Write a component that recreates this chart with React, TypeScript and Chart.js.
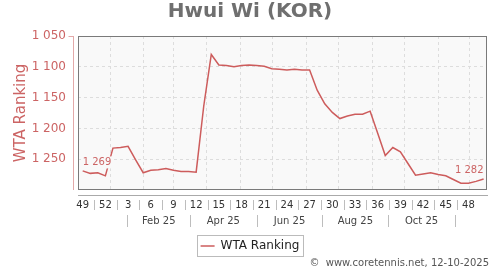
import React, { useEffect, useRef } from 'react';
import { Chart, registerables } from 'chart.js';

Chart.register(...registerables);

// ISO week numbers of each weekly ranking (Dec 2024 -> Dec 2025)
const weekLabels = [49, 50, 51, 52, 1, 2, 3, 4, 5, 6, 7, 8, 9, 10, 11, 12, 13, 14, 15, 16, 17, 18, 19, 20, 21, 22, 23, 24, 25, 26, 27, 28, 29, 30, 31, 32, 33, 34, 35, 36, 37, 38, 39, 40, 41, 42, 43, 44, 45, 46, 47, 48, 49, 50];

// WTA ranking per week
const rankings = [1269, 1273, 1272, 1277, 1232, 1231, 1229, 1251, 1272, 1268, 1267, 1265, 1268, 1270, 1270, 1271, 1164, 1080, 1097, 1098, 1100, 1098, 1097, 1098, 1099, 1103, 1104, 1105, 1104, 1105, 1105, 1138, 1160, 1174, 1184, 1180, 1177, 1177, 1172, 1208, 1244, 1231, 1238, 1257, 1276, 1274, 1272, 1275, 1277, 1283, 1289, 1289, 1286, 1282];

// week-index positions of the labelled week ticks
const xTickWeeks = [0, 3, 6, 9, 12, 15, 18, 21, 24, 27, 30, 33, 36, 39, 42, 45, 48, 51];
// second row: month groups
const monthLabels = ['Feb 25', 'Apr 25', 'Jun 25', 'Aug 25', 'Oct 25'];
const monthEdges = [5.9, 14.2, 23.0, 31.7, 40.4, 49.2];
// monthly vertical grid lines (week-index units)
const gridWeeks = [3.7, 8.1, 12.0, 16.4, 20.8, 25.1, 29.6, 33.8, 38.3, 42.6, 47.0, 51.2];
const yTicks = [1050, 1100, 1150, 1200, 1250];

const X_MIN = -0.62;
const X_MAX = 53.45;
const FONT = 'DejaVu Sans';
const RED = '#cd5c5c';
const RED_TEXT = '#cc6464';
const PLOT_BG = '#f9f9f9';

const fmt = (v: number) => {
  const n = Math.round(v);
  if (n < 1000) return String(n);
  return Math.floor(n / 1000) + ' ' + String(n % 1000).padStart(3, '0');
};

const decor = {
  id: 'decor',
  beforeDraw(chart: any) {
    const { ctx, chartArea: a } = chart;
    ctx.save();
    ctx.fillStyle = PLOT_BG;
    ctx.fillRect(a.left, a.top, a.right - a.left, a.bottom - a.top);
    ctx.restore();
  },
  afterDatasetsDraw(chart: any) {
    const { ctx } = chart;
    const meta = chart.getDatasetMeta(0);
    const pts = meta.data;
    if (!pts.length) return;
    ctx.save();
    ctx.font = `10px "${FONT}"`;
    ctx.textBaseline = 'middle';
    const drawLabel = (p: any, v: number, align: 'left' | 'right') => {
      const t = fmt(v);
      const w = ctx.measureText(t).width;
      const y = p.y - 8.5;
      const x0 = align === 'left' ? p.x : p.x - w;
      ctx.fillStyle = PLOT_BG;
      ctx.fillRect(x0 - 1, y - 6, w + 2, 12);
      ctx.fillStyle = RED_TEXT;
      ctx.textAlign = align;
      ctx.fillText(t, p.x, y);
    };
    drawLabel(pts[0], rankings[0], 'left');
    drawLabel(pts[pts.length - 1], rankings[rankings.length - 1], 'right');
    ctx.restore();
  },
  afterDraw(chart: any) {
    const { ctx, chartArea: a } = chart;
    const xs = chart.scales.x;
    ctx.save();
    // plot box border
    ctx.strokeStyle = '#7a7a7a';
    ctx.lineWidth = 1;
    ctx.strokeRect(Math.round(a.left) + 0.5, Math.round(a.top) + 0.5, Math.round(a.right - a.left) - 1, Math.round(a.bottom - a.top) - 1);
    // y axis line (offset)
    const yx = Math.round(a.left) - 5 + 0.5;
    ctx.strokeStyle = '#e3a9a9';
    ctx.beginPath();
    ctx.moveTo(yx, Math.round(a.top));
    ctx.lineTo(yx, Math.round(a.bottom));
    ctx.moveTo(yx - 5, Math.round(a.top) + 0.5);
    ctx.lineTo(yx, Math.round(a.top) + 0.5);
    ctx.stroke();
    // x axis line (offset)
    const xy = Math.round(a.bottom) + 5 + 0.5;
    ctx.strokeStyle = '#aaaaaa';
    ctx.beginPath();
    ctx.moveTo(Math.round(a.left), xy);
    ctx.lineTo(Math.round(a.right) + 1, xy);
    ctx.stroke();
    // separators between week labels
    ctx.strokeStyle = '#bdbdbd';
    ctx.beginPath();
    for (let i = 0; i < xTickWeeks.length - 1; i++) {
      const v = (xTickWeeks[i] + xTickWeeks[i + 1]) / 2;
      const px = Math.round(xs.getPixelForValue(v)) + 0.5;
      ctx.moveTo(px, a.bottom + 10);
      ctx.lineTo(px, a.bottom + 20);
    }
    for (const v of monthEdges) {
      const px = Math.round(xs.getPixelForValue(v)) + 0.5;
      ctx.moveTo(px, a.bottom + 25);
      ctx.lineTo(px, a.bottom + 37);
    }
    ctx.stroke();
    // legend frame
    const lg = chart.legend;
    if (lg && lg.legendHitBoxes && lg.legendHitBoxes[0]) {
      const h = lg.legendHitBoxes[0];
      ctx.strokeStyle = '#bbbbbb';
      ctx.strokeRect(Math.round(h.left - 4) + 0.5, Math.round(h.top - 5) + 0.5, Math.round(h.width + 7), 21);
    }
    // footer
    ctx.font = `10px "${FONT}"`;
    ctx.fillStyle = '#555555';
    ctx.textAlign = 'right';
    ctx.textBaseline = 'middle';
    ctx.fillText('\u00A9  www.coretennis.net, 12-10-2025', 489, 263.5);
    ctx.restore();
  },
};

export default function App() {
  const ref = useRef<HTMLCanvasElement | null>(null);
  useEffect(() => {
    if (!ref.current) return;
    const chart = new Chart(ref.current, {
      type: 'line',
      data: {
        datasets: [
          {
            label: 'WTA Ranking',
            data: rankings.map((v, i) => ({ x: i, y: v })),
            borderColor: RED,
            backgroundColor: RED,
            borderWidth: 1.5,
            pointRadius: 0,
            tension: 0,
            fill: false,
          },
        ],
      },
      options: {
        animation: false,
        responsive: true,
        maintainAspectRatio: false,
        events: [],
        layout: { padding: { left: 0, right: 0, top: 0, bottom: 8 } },
        scales: {
          x: {
            type: 'linear',
            position: 'bottom',
            min: X_MIN,
            max: X_MAX,
            afterBuildTicks: (s: any) => {
              s.ticks = xTickWeeks.map((v) => ({ value: v }));
            },
            afterFit: (s: any) => {
              s.height = 21;
            },
            ticks: {
              autoSkip: false,
              maxRotation: 0,
              padding: 9,
              color: '#333333',
              font: { family: FONT, size: 10 },
              callback: (v: any) => String(weekLabels[Math.round(Number(v))]),
            },
            grid: { display: false, drawTicks: false },
            border: { display: false },
          },
          xm: {
            type: 'linear',
            position: 'bottom',
            min: X_MIN,
            max: X_MAX,
            afterBuildTicks: (s: any) => {
              s.ticks = monthLabels.map((_, i) => ({ value: (monthEdges[i] + monthEdges[i + 1]) / 2 }));
            },
            afterFit: (s: any) => {
              s.height = 16;
            },
            ticks: {
              autoSkip: false,
              maxRotation: 0,
              padding: 4,
              color: '#444444',
              font: { family: FONT, size: 10 },
              callback: (_v: any, i: number) => monthLabels[i],
            },
            grid: { display: false, drawTicks: false },
            border: { display: false },
          },
          xg: {
            type: 'linear',
            position: 'top',
            min: X_MIN,
            max: X_MAX,
            afterBuildTicks: (s: any) => {
              s.ticks = gridWeeks.map((v) => ({ value: v }));
            },
            afterFit: (s: any) => {
              s.height = 0;
            },
            ticks: { display: false },
            grid: { color: '#dddddd', drawTicks: false, lineWidth: 1 },
            border: { display: false, dash: [3, 3] },
          },
          y: {
            type: 'linear',
            reverse: true,
            min: 1050,
            max: 1300,
            afterBuildTicks: (s: any) => {
              s.ticks = yTicks.map((v) => ({ value: v }));
            },
            afterFit: (s: any) => {
              s.width = 78;
            },
            ticks: {
              padding: 12,
              color: RED_TEXT,
              font: { family: FONT, size: 12 },
              callback: (v: any) => fmt(Number(v)),
            },
            grid: { color: '#dddddd', drawTicks: false, lineWidth: 1 },
            border: { display: false, dash: [3, 3] },
            title: {
              display: true,
              text: 'WTA Ranking',
              color: RED_TEXT,
              font: { family: FONT, size: 15 },
              padding: { top: 12, bottom: 0 },
            },
          },
          yr: {
            type: 'linear',
            position: 'right',
            afterFit: (s: any) => {
              s.width = 13;
            },
            ticks: { display: false },
            grid: { display: false, drawTicks: false },
            border: { display: false },
          },
        },
        plugins: {
          title: {
            display: true,
            text: 'Hwui Wi (KOR)',
            color: '#6f6f6f',
            font: { family: FONT, size: 20, weight: 'bold' },
            padding: { top: 0, bottom: 12 },
          },
          legend: {
            position: 'bottom',
            labels: {
              usePointStyle: true,
              pointStyle: 'line',
              pointStyleWidth: 14,
              boxHeight: 12,
              padding: 13,
              color: '#222222',
              font: { family: FONT, size: 12 },
            },
          },
          tooltip: { enabled: false },
        },
      } as any,
      plugins: [decor],
    });
    return () => chart.destroy();
  }, []);
  return (
    <div style={{ position: 'absolute', left: 0, top: 0, width: 500, height: 270, background: '#ffffff' }}>
      <canvas ref={ref} />
    </div>
  );
}
